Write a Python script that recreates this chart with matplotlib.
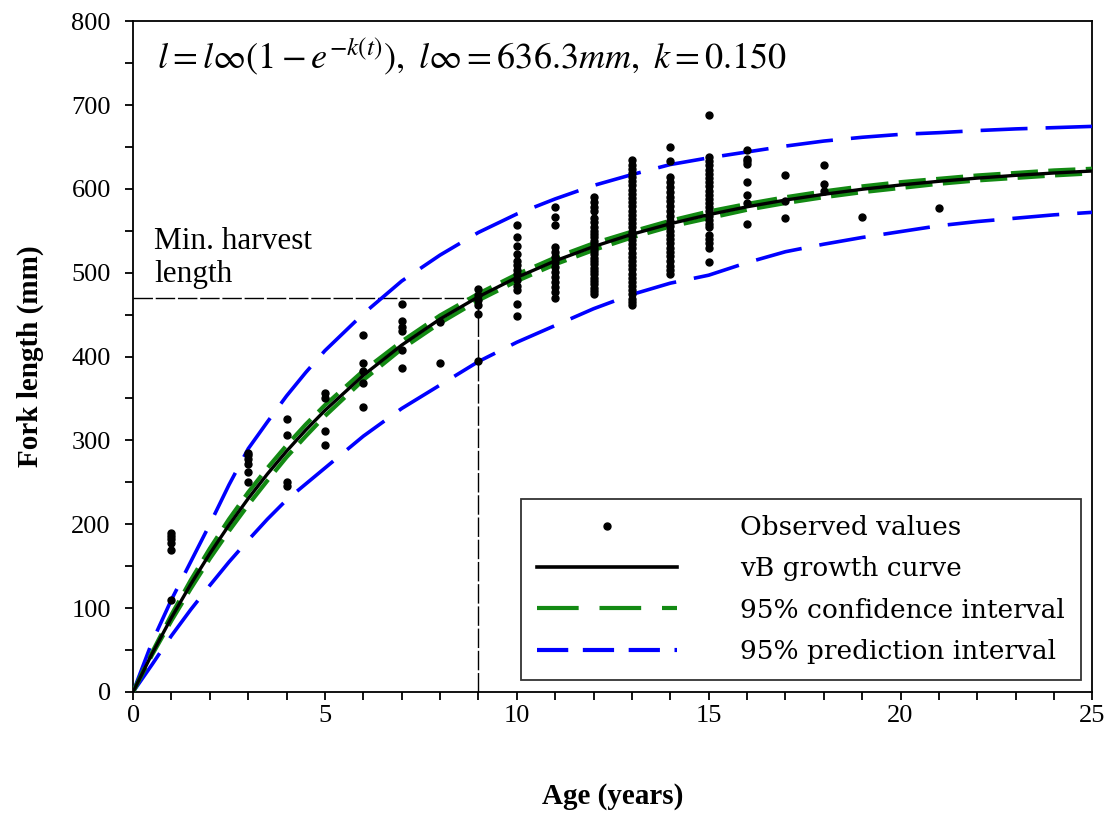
import numpy as np
import matplotlib.pyplot as plt
from matplotlib.lines import Line2D

# observed fork lengths (mm) by age (years)
obs_age = {
    1: [190, 186, 182, 178, 169, 110],
    3: [285, 282, 278, 272, 262, 250],
    4: [326, 307, 250, 245],
    5: [357, 351, 311, 294],
    6: [426, 392, 383, 368, 340],
    7: [463, 442, 435, 431, 408, 386],
    8: [441, 392],
    9: [481, 473, 468, 462, 451, 395],
    10: [557, 542, 532, 522, 514, 509, 503, 499, 491, 484, 479, 463, 448],
    11: [578, 566, 557, 531, 525, 519, 513, 507, 501, 495, 489, 483, 477, 470],
    12: [590, 584, 578, 573, 565, 560, 555, 550, 546, 542, 538, 534, 530, 526,
         522, 518, 514, 510, 506, 502, 498, 494, 490, 486, 482, 478, 475],
    13: [634, 629, 624, 619, 614, 609, 604, 599, 594, 589, 584, 579, 574, 569,
         564, 559, 554, 549, 544, 539, 534, 529, 524, 519, 514, 509, 504, 499,
         494, 489, 484, 479, 474, 469, 465, 461],
    14: [650, 633, 614, 608, 602, 596, 590, 585, 580, 574, 568, 562, 556, 550,
         545, 540, 535, 530, 525, 520, 514, 508, 503, 499],
    15: [688, 638, 633, 628, 623, 618, 613, 608, 603, 598, 593, 588, 583, 578,
         573, 568, 563, 558, 554, 545, 540, 535, 529, 513],
    16: [646, 636, 633, 630, 608, 593, 583, 558],
    17: [616, 586, 565],
    18: [628, 606, 597],
    19: [566],
    21: [577],
}

# fitted curve and intervals
age = [0, 0.5, 1, 1.5, 2, 2.5, 3, 3.5, 4, 4.5, 5, 6, 7, 8, 9, 10, 11, 12, 13,
       14, 15, 16, 17, 18, 19, 20, 21, 22, 23, 24, 25]
vb = [0, 46.0, 88.6, 128.2, 164.9, 199.0, 230.6, 259.9, 287.1, 312.3, 335.7,
      377.6, 413.6, 444.7, 471.3, 494.3, 514.1, 531.1, 545.8, 558.4, 569.2,
      578.6, 586.6, 593.5, 599.5, 604.6, 609.0, 612.8, 616.1, 618.9, 621.3]
ci_up = [0, 47.5, 92, 133, 171, 206, 238, 267, 294, 319, 342, 383, 418, 449,
         475, 498, 518, 535, 549, 562, 573, 582, 590, 597, 603, 608, 612,
         616, 619, 622, 624]
ci_lo = [0, 44.5, 85, 123, 159, 192, 223, 252, 280, 305, 329, 372, 409, 440,
         467, 490, 510, 527, 542, 555, 565, 575, 583, 590, 596, 601, 606,
         610, 613, 616, 618.5]
pi_up = [0, 60, 110, 155, 200, 247, 290, 322, 353, 381, 407, 451, 490, 521,
         548, 570, 588, 604, 617, 629, 637, 644, 651, 657, 661.5, 665, 667,
         669.5, 671.5, 673, 674.5]
pi_lo = [0, 33, 67, 98, 127, 155, 181, 206, 229, 248, 267, 305, 338, 366,
         394, 417, 437, 457, 474, 487.5, 497, 512, 525, 534, 542, 549, 556,
         561, 565, 569, 572]

harvest_len = 470
harvest_age = 9

plt.rcParams['font.family'] = ['Liberation Serif', 'DejaVu Serif']
plt.rcParams['mathtext.fontset'] = 'stix'

fig = plt.figure(figsize=(11.09, 8.14), dpi=100)
ax = fig.add_axes([0.120, 0.150, 0.865, 0.824])

xs = [a for a, v in obs_age.items() for _ in v]
ys = [y for v in obs_age.values() for y in v]
ax.plot(xs, ys, 'o', color='black', ms=5, zorder=5)

ax.plot([0, harvest_age], [harvest_len, harvest_len], color='black', lw=1,
        dashes=(14, 2), zorder=2)
ax.plot([harvest_age, harvest_age], [0, harvest_len], color='black', lw=1,
        dashes=(14, 2), zorder=2)

blue = '#0000ff'
green = '#138a13'
ax.plot(age, pi_up, color=blue, lw=2.6, dashes=(13, 5), zorder=3)
ax.plot(age, pi_lo, color=blue, lw=2.6, dashes=(13, 5), zorder=3)
ax.plot(age, ci_up, color=green, lw=3, dashes=(6.5, 2.5), zorder=4)
ax.plot(age, ci_lo, color=green, lw=3, dashes=(6.5, 2.5), zorder=4)
ax.plot(age, vb, color='black', lw=2.4, zorder=6)

ax.set_xlim(0, 25)
ax.set_ylim(0, 800)
ax.set_xticks([0, 5, 10, 15, 20, 25])
ax.set_xticks(range(0, 26), minor=True)
ax.set_yticks(range(0, 801, 100))
ax.set_yticks(range(0, 801, 50), minor=True)
ax.tick_params(which='both', direction='out', length=6, width=1.3,
               labelsize=19, top=False, right=False)
ax.tick_params(axis='y', pad=10)
for s in ax.spines.values():
    s.set_linewidth(1.3)

ax.set_xlabel('Age (years)', fontsize=21, fontweight='bold', labelpad=40)
ax.set_ylabel('Fork length (mm)', fontsize=21, fontweight='bold', labelpad=20)

ax.text(0.025, 0.978,
        r'$l = l\infty(1 - e^{-k(t)}),\ l\infty = 636.3mm,\ k = 0.150$',
        transform=ax.transAxes, fontsize=26, va='top', ha='left')
ax.text(0.55, 480, 'Min. harvest\nlength', fontsize=22.5, va='bottom',
        ha='left', linespacing=1.2)

handles = [
    Line2D([], [], ls='none', marker='o', color='black', ms=5),
    Line2D([], [], color='black', lw=2.6),
    Line2D([], [], color=green, lw=3, dashes=(10, 5)),
    Line2D([], [], color=blue, lw=3, dashes=(7.5, 3.5)),
]
labels = ['Observed values', 'vB growth curve', '95% confidence interval',
          '95% prediction interval']
leg = ax.legend(handles, labels, loc='lower right',
                bbox_to_anchor=(0.988, 0.018), frameon=True,
                prop={'family': 'DejaVu Serif', 'size': 19},
                fancybox=False, edgecolor='black', handlelength=5.3,
                handletextpad=2.4, borderpad=0.6, labelspacing=0.62,
                borderaxespad=0)
leg.get_frame().set_linewidth(1.3)

plt.savefig('out.png', dpi=100)
